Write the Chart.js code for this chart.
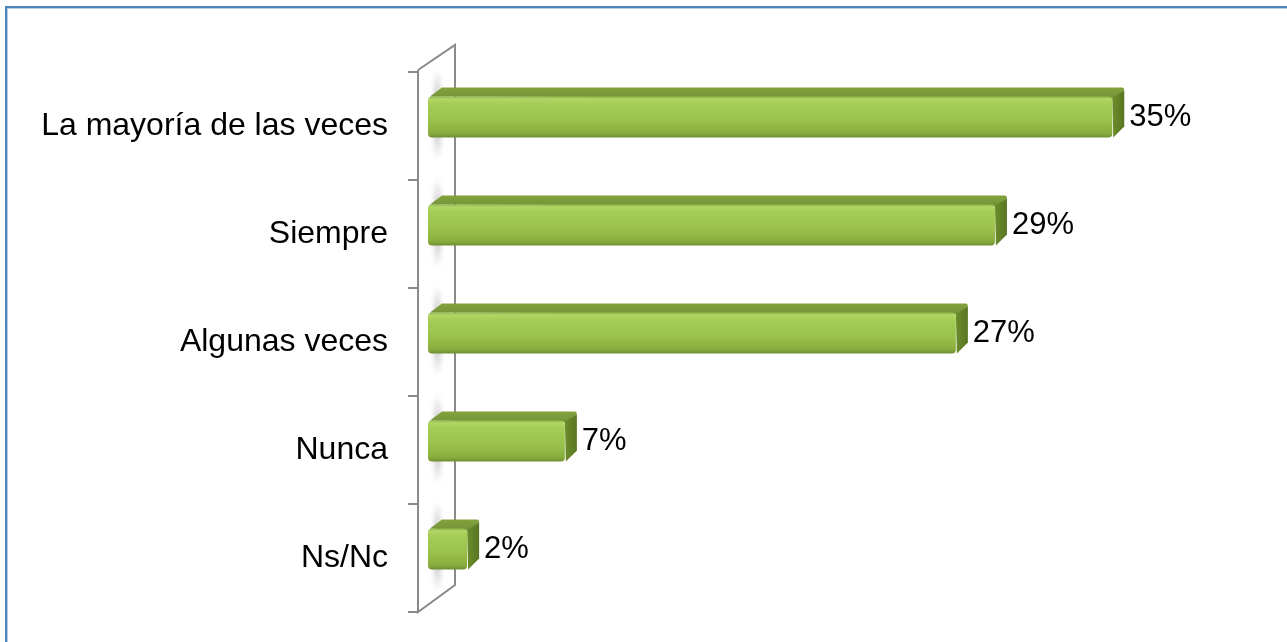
<!DOCTYPE html>
<html>
<head>
<meta charset="utf-8">
<script src="https://cdn.jsdelivr.net/npm/chart.js@4.4.1/dist/chart.umd.min.js"></script>
<style>
html, body { margin: 0; padding: 0; background: #fff; }
#wrap { width: 1287px; height: 642px; position: relative; }
</style>
</head>
<body>
<div id="wrap"><canvas id="myChart"></canvas></div>
<script>
const categories = ['La mayoría de las veces', 'Siempre', 'Algunas veces', 'Nunca', 'Ns/Nc'];
const percentages = [35, 29, 27, 7, 2];
const axisMax = 40;

// 3d look
const DEPTH_X = 12, DEPTH_Y = 9, LIFT = 9;
const WALL_DX = 37, WALL_DY = 27;

const bars3d = {
	id: 'bars3d',
	beforeDraw(chart) {
		const ctx = chart.ctx;
		ctx.save();
		ctx.strokeStyle = '#4f81bd';
		ctx.lineWidth = 2;
		ctx.beginPath();
		ctx.moveTo(6, 642);
		ctx.lineTo(6, 7);
		ctx.lineTo(1287, 7);
		ctx.stroke();
		ctx.strokeStyle = '#b8cce4';
		ctx.lineWidth = 1;
		ctx.beginPath();
		ctx.moveTo(7.5, 642);
		ctx.lineTo(7.5, 8.5);
		ctx.lineTo(1287, 8.5);
		ctx.stroke();
		ctx.restore();
	},
	beforeDatasetsDraw(chart) {
		const ctx = chart.ctx;
		const area = chart.chartArea;
		const fx = area.left - 10;
		const bx = fx + WALL_DX;
		ctx.save();
		// shadows of the bars on the wall
		const meta = chart.getDatasetMeta(0);
		meta.data.forEach(bar => {
			const p = bar.getProps(['y', 'height'], true);
			const t = p.y - LIFT - p.height / 2 - 26;
			const h = p.height + 48;
			const g = ctx.createLinearGradient(0, t, 0, t + h);
			g.addColorStop(0, 'rgba(150,150,150,0)');
			g.addColorStop(0.3, 'rgba(150,150,150,0.5)');
			g.addColorStop(0.7, 'rgba(150,150,150,0.5)');
			g.addColorStop(1, 'rgba(150,150,150,0)');
			ctx.fillStyle = g;
			ctx.filter = 'blur(2px)';
			ctx.fillRect(area.left + 6, t, 7, h);
			ctx.filter = 'none';
		});
		ctx.strokeStyle = '#8a8a8a';
		ctx.lineWidth = 2;
		ctx.beginPath();
		ctx.moveTo(fx, area.top - 2);
		ctx.lineTo(fx, area.bottom);
		ctx.lineTo(bx, area.bottom - WALL_DY);
		ctx.lineTo(bx, area.top - WALL_DY);
		ctx.lineTo(fx, area.top - 2);
		ctx.stroke();
		const n = categories.length;
		const step = (area.bottom - area.top) / n;
		ctx.beginPath();
		for (let i = 0; i <= n; i++) {
			const y = area.top + i * step;
			ctx.moveTo(fx - 10, y);
			ctx.lineTo(fx, y);
		}
		ctx.stroke();
		ctx.restore();
	},
	afterDatasetsDraw(chart) {
		const ctx = chart.ctx;
		const meta = chart.getDatasetMeta(0);
		ctx.save();
		meta.data.forEach((bar, i) => {
			const p = bar.getProps(['x', 'y', 'base', 'height'], true);
			const x0 = p.base, x1 = p.x;
			const top = p.y - LIFT - p.height / 2;
			const bot = top + p.height;

			// top face
			const gt = ctx.createLinearGradient(0, top - DEPTH_Y, 0, top);
			gt.addColorStop(0, '#81a23c');
			gt.addColorStop(1, '#76963a');
			ctx.fillStyle = gt;
			ctx.beginPath();
			ctx.moveTo(x0 + 2, top);
			ctx.lineTo(x0 + DEPTH_X + 2, top - DEPTH_Y);
			ctx.lineTo(x1 + DEPTH_X - 2, top - DEPTH_Y);
			ctx.quadraticCurveTo(x1 + DEPTH_X, top - DEPTH_Y, x1 + DEPTH_X, top - DEPTH_Y + 3);
			ctx.lineTo(x1, top + 2);
			ctx.closePath();
			ctx.fill();

			// right face
			const gr = ctx.createLinearGradient(x1, 0, x1 + DEPTH_X, 0);
			gr.addColorStop(0, '#6c8d2b');
			gr.addColorStop(1, '#587622');
			ctx.fillStyle = gr;
			ctx.beginPath();
			ctx.moveTo(x1, top + 1);
			ctx.lineTo(x1 + DEPTH_X, top - DEPTH_Y + 3);
			ctx.lineTo(x1 + DEPTH_X, bot - DEPTH_Y - 2);
			ctx.lineTo(x1 + 1, bot);
			ctx.closePath();
			ctx.fill();

			// front face
			const gf = ctx.createLinearGradient(0, top, 0, bot);
			gf.addColorStop(0, '#8fb548');
			gf.addColorStop(0.06, '#b0d766');
			gf.addColorStop(0.18, '#a4cd55');
			gf.addColorStop(0.6, '#9ac24a');
			gf.addColorStop(0.9, '#87ac3c');
			gf.addColorStop(1, '#6f9030');
			ctx.fillStyle = gf;
			ctx.beginPath();
			ctx.roundRect(x0, top, x1 - x0, bot - top, 4);
			ctx.fill();

			// value label
			ctx.fillStyle = '#000';
			ctx.font = '31px "Liberation Sans", Arial, sans-serif';
			ctx.textAlign = 'left';
			ctx.textBaseline = 'middle';
			ctx.fillText(percentages[i] + '%', x1 + DEPTH_X + 5, top + p.height / 2);
		});
		ctx.restore();
	}
};

const ctx = document.getElementById('myChart').getContext('2d');
const myChart = new Chart(ctx, {
	type: 'bar',
	data: {
		labels: categories,
		datasets: [{
			data: percentages,
			backgroundColor: 'rgba(0,0,0,0)',
			borderWidth: 0,
			barThickness: 41
		}]
	},
	options: {
		indexAxis: 'y',
		responsive: true,
		maintainAspectRatio: false,
		animation: false,
		layout: { padding: { left: 0, right: 77, top: 72, bottom: 30 } },
		plugins: {
			legend: { display: false },
			tooltip: { enabled: false }
		},
		scales: {
			x: {
				display: false,
				min: 0,
				max: axisMax
			},
			y: {
				grid: { display: false, drawTicks: false },
				border: { display: false },
				ticks: {
					padding: 40,
					color: '#000',
					font: { family: '"Liberation Sans", Arial, sans-serif', size: 32 }
				},
				afterFit(scale) {
					scale.width = 428;
					scale.paddingTop = 0;
					scale.paddingBottom = 0;
				}
			}
		}
	},
	plugins: [bars3d]
});
</script>
</body>
</html>
